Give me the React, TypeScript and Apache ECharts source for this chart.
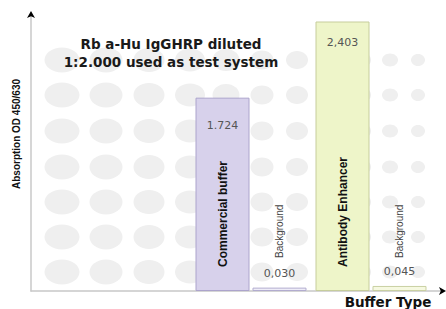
import React, { useEffect, useRef } from "react";
import * as echarts from "echarts";

const categories = ["Commercial buffer", "Antibody Enhancer"];
const bufferValues = [1.724, 2.403];
const backgroundValues = [0.03, 0.045];
const bufferValueLabels = ["1.724", "2,403"];
const backgroundValueLabels = ["0,030", "0,045"];
const backgroundName = "Background";
const chartTitle = "Rb a-Hu IgGHRP diluted\n1:2.000 used as test system";
const yTitle = "Absorption OD 450/630";
const xTitle = "Buffer Type";

// decorative dot pattern
const dotCols = [
  { x: 62, w: 35, h: 25 },
  { x: 106, w: 33, h: 25 },
  { x: 149, w: 31, h: 24 },
  { x: 190, w: 30, h: 23 },
  { x: 226, w: 27, h: 22 },
  { x: 262, w: 23, h: 19 },
  { x: 297, w: 22, h: 18 },
  { x: 330, w: 20, h: 16 },
  { x: 362, w: 18, h: 15 },
  { x: 390, w: 16, h: 13 },
  { x: 418, w: 14, h: 12 },
];
const dotRows = [60, 95, 131, 167, 202, 237, 272];

const mainFills = ["#d7d1eb", "#eef5c9"];
const mainBorders = ["#aca4cc", "#c6cd9c"];
const bgFills = ["#efedf8", "#f6f9e1"];
const bgBorders = ["#b2accf", "#c9d0a2"];
const valueLabelDistances = [22, 15];

export default function App() {
  const ref = useRef<HTMLDivElement>(null);
  useEffect(() => {
    if (!ref.current) return;
    const chart = echarts.init(ref.current, null, { renderer: "svg" });
    const dots: any[] = [];
    dotRows.forEach((cy) => {
      dotCols.forEach((c) => {
        dots.push({
          type: "ellipse",
          shape: { cx: c.x, cy, rx: c.w / 2, ry: c.h / 2 },
          style: { fill: "#efefef" },
          z: -10,
          silent: true,
        });
      });
    });
    const hiddenValue = {
      type: "value",
      min: 0,
      max: 1,
      axisTick: { show: false },
      axisLabel: { show: false },
      splitLine: { show: false },
    };
    const option: any = {
      animation: false,
      backgroundColor: "#ffffff",
      title: {
        text: chartTitle,
        left: 171,
        top: 35,
        textAlign: "center",
        padding: 0,
        textStyle: {
          fontFamily: "DejaVu Sans",
          fontWeight: "bold",
          fontSize: 13.5,
          lineHeight: 18,
          color: "#1a1a1a",
        },
      },
      grid: [
        { left: 31, right: 3, top: 14, bottom: 18 },
        { left: 191, width: 240, top: 14, bottom: 18 },
      ],
      xAxis: [
        {
          ...hiddenValue,
          gridIndex: 0,
          position: "bottom",
          axisLine: { show: true, onZero: false, lineStyle: { color: "#c8c8c8", width: 1.5 } },
        },
        {
          ...hiddenValue,
          gridIndex: 0,
          position: "bottom",
          axisLine: {
            show: true,
            onZero: false,
            symbol: ["none", "arrow"],
            symbolSize: [6, 7],
            symbolOffset: [0, 3],
            lineStyle: { color: "#000000", width: 0 },
          },
        },
        { type: "category", gridIndex: 1, data: categories, show: false },
        { type: "category", gridIndex: 1, data: categories, show: false },
      ],
      yAxis: [
        {
          ...hiddenValue,
          gridIndex: 0,
          position: "left",
          axisLine: { show: true, onZero: false, lineStyle: { color: "#c8c8c8", width: 1.5 } },
        },
        {
          ...hiddenValue,
          gridIndex: 0,
          position: "left",
          axisLine: {
            show: true,
            onZero: false,
            symbol: ["none", "arrow"],
            symbolSize: [6, 7],
            symbolOffset: [0, 3],
            lineStyle: { color: "#000000", width: 0 },
          },
        },
        { type: "value", gridIndex: 1, min: 0, max: 2.47, show: false },
      ],
      series: [
        {
          name: "Buffer",
          type: "bar",
          xAxisIndex: 2,
          yAxisIndex: 2,
          barWidth: 54,
          barGap: "5.5%",
          data: bufferValues.map((v, i) => ({
            value: v,
            itemStyle: { color: mainFills[i], borderColor: mainBorders[i], borderWidth: 1 },
            label: { distance: valueLabelDistances[i] },
          })),
          label: {
            show: true,
            position: "insideTop",
            formatter: (p: any) => bufferValueLabels[p.dataIndex],
            fontFamily: "DejaVu Sans",
            fontSize: 11,
            color: "#555555",
          },
        },
        {
          name: "Background",
          type: "bar",
          xAxisIndex: 2,
          yAxisIndex: 2,
          barWidth: 54,
          barGap: "5.5%",
          data: backgroundValues.map((v, i) => ({
            value: v,
            itemStyle: { color: bgFills[i], borderColor: bgBorders[i], borderWidth: 1 },
          })),
          label: {
            show: true,
            position: "top",
            distance: 9,
            formatter: (p: any) => backgroundValueLabels[p.dataIndex],
            fontFamily: "DejaVu Sans",
            fontSize: 11,
            color: "#555555",
          },
        },
        {
          name: "BufferNames",
          type: "bar",
          xAxisIndex: 3,
          yAxisIndex: 2,
          barWidth: 54,
          barGap: "5.5%",
          silent: true,
          data: bufferValues,
          itemStyle: { color: "transparent" },
          label: {
            show: true,
            position: "insideBottom",
            distance: 24,
            rotate: 90,
            align: "left",
            verticalAlign: "middle",
            formatter: "{b}",
            fontFamily: "Liberation Sans",
            fontWeight: "bold",
            fontSize: 12,
            color: "#111111",
          },
        },
        {
          name: "BackgroundNames",
          type: "bar",
          xAxisIndex: 3,
          yAxisIndex: 2,
          barWidth: 54,
          barGap: "5.5%",
          silent: true,
          data: backgroundValues,
          itemStyle: { color: "transparent" },
          label: {
            show: true,
            position: "insideBottom",
            distance: 33,
            rotate: 90,
            align: "left",
            verticalAlign: "middle",
            formatter: () => backgroundName,
            fontFamily: "Liberation Sans",
            fontSize: 10,
            color: "#444444",
          },
        },
      ],
      graphic: [
        ...dots,
        {
          type: "text",
          x: 16,
          y: 134,
          rotation: Math.PI / 2,
          style: {
            text: yTitle,
            fontFamily: "Liberation Sans",
            fontWeight: "bold",
            fontSize: 10,
            fill: "#111111",
            align: "center",
            verticalAlign: "middle",
          },
        },
        {
          type: "text",
          x: 388,
          y: 302,
          style: {
            text: xTitle,
            fontFamily: "DejaVu Sans",
            fontWeight: "bold",
            fontSize: 13.5,
            fill: "#111111",
            align: "center",
            verticalAlign: "middle",
          },
        },
      ],
    };
    chart.setOption(option);
    return () => chart.dispose();
  }, []);
  return (
    <div
      ref={ref}
      style={{ position: "fixed", left: 0, top: 0, width: 446, height: 309, background: "#fff" }}
    />
  );
}
